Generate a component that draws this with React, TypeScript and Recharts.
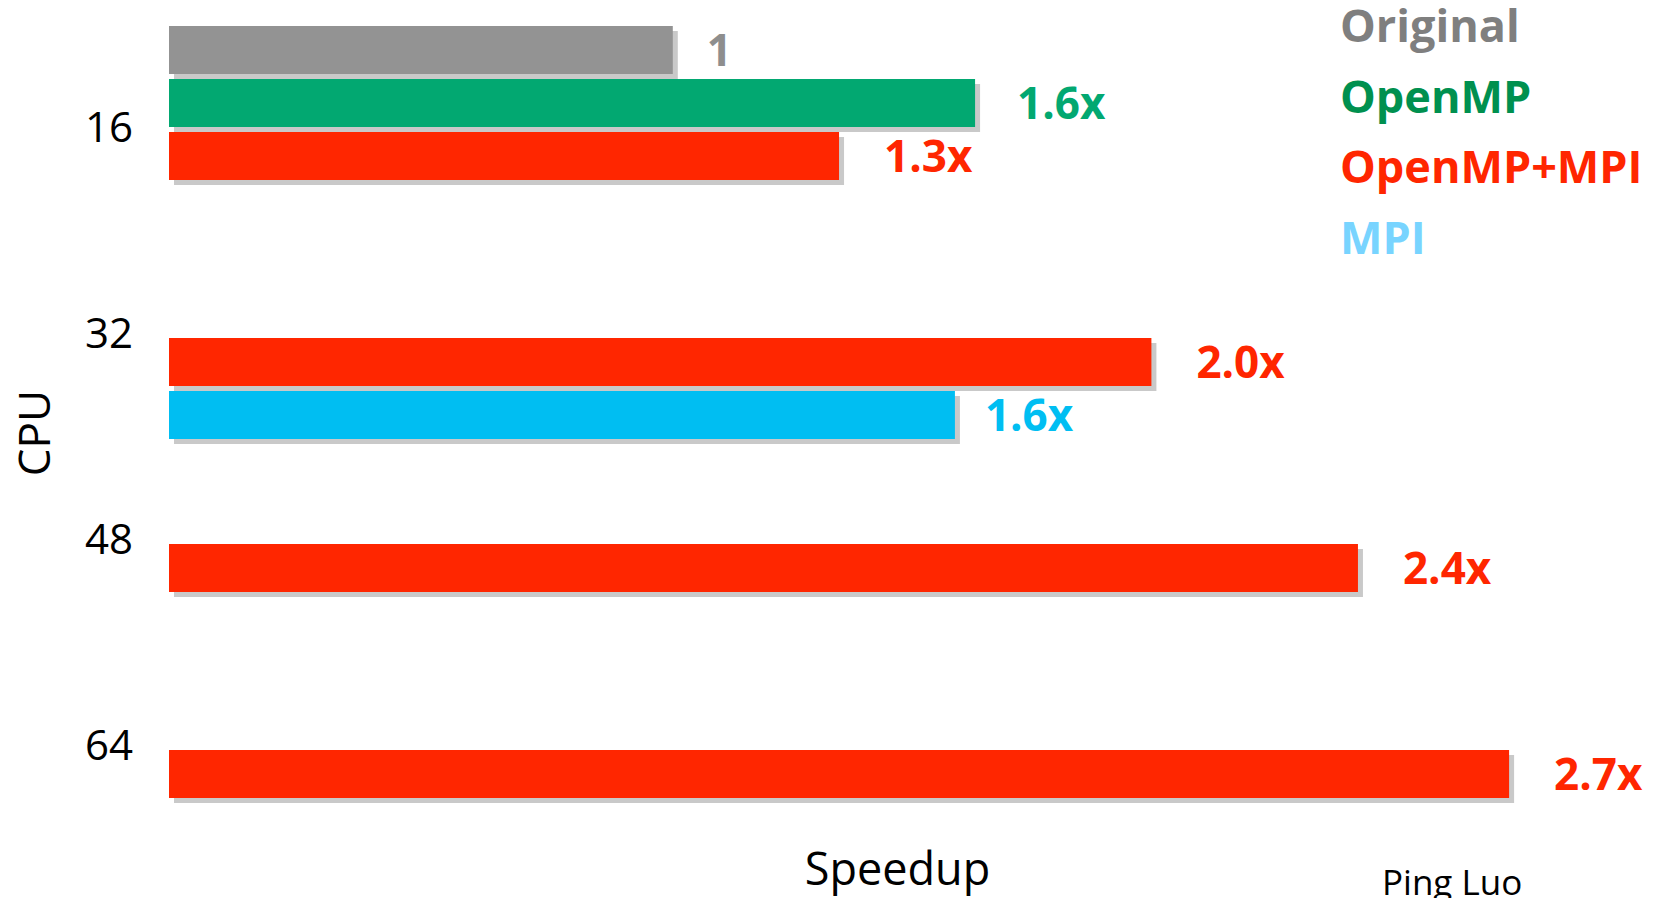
import { Bar, BarChart, LabelList, Legend, XAxis, YAxis } from "recharts";

const categories = ["16", "32", "48", "64"];
const originalSpeedup = [1.0, null, null, null];
const openmpSpeedup = [1.6, null, null, null];
const hybridSpeedup = [1.33, 1.95, 2.36, 2.66];
const mpiSpeedup = [null, 1.56, null, null];

const originalLabels = ["1", null, null, null];
const openmpLabels = ["1.6x", null, null, null];
const hybridLabels = ["1.3x", "2.0x", "2.4x", "2.7x"];
const mpiLabels = [null, "1.6x", null, null];

const FONT = "'Open Sans', 'DejaVu Sans', sans-serif";
const SHADOW = "#c9c9c9";

const data = categories.map((cpu, i) => ({
  cpu,
  original: originalSpeedup[i],
  openmp: openmpSpeedup[i],
  hybrid: hybridSpeedup[i],
  mpi: mpiSpeedup[i],
  originalLabel: originalLabels[i],
  openmpLabel: openmpLabels[i],
  hybridLabel: hybridLabels[i],
  mpiLabel: mpiLabels[i],
}));

const series = [
  { key: "original", name: "Original", fill: "#939393", label: "#8e8e8e", legend: "#7f7f7f", offset: 34 },
  { key: "openmp", name: "OpenMP", fill: "#02a871", label: "#02a871", legend: "#00904f", offset: 42 },
  { key: "hybrid", name: "OpenMP+MPI", fill: "#ff2600", label: "#ff2600", legend: "#ff2600", offset: 45 },
  { key: "mpi", name: "MPI", fill: "#00bef2", label: "#00bef2", legend: "#78d4ff", offset: 30 },
];

function ShadowBar(props: any) {
  const { x, y, width, height, fill } = props;
  if (!width || width <= 0) return null;
  return (
    <g>
      <rect x={x + 5} y={y + 5} width={width} height={height} fill={SHADOW} />
      <rect x={x} y={y} width={width} height={height} fill={fill} />
    </g>
  );
}

function CpuLabel(props: any) {
  const vb = props.viewBox || { x: 0, y: 26, width: 169, height: 824 };
  const cx = vb.x + 50;
  const cy = vb.y + vb.height / 2 - 5;
  return (
    <text
      x={cx}
      y={cy}
      transform={`rotate(-90 ${cx} ${cy})`}
      textAnchor="middle"
      fontSize={44}
      fontFamily={FONT}
      fill="#000"
    >
      CPU
    </text>
  );
}

function SpeedupLabel(props: any) {
  const vb = props.viewBox || { x: 169, y: 850, width: 1461, height: 48 };
  return (
    <text
      x={vb.x + vb.width / 2 - 2}
      y={vb.y + 35}
      textAnchor="middle"
      fontSize={45}
      fontFamily={FONT}
      fill="#000"
    >
      Speedup
    </text>
  );
}

function LegendList() {
  return (
    <div style={{ fontFamily: FONT, fontWeight: 700, fontSize: 45 }}>
      {series.map((s) => (
        <div key={s.key} style={{ color: s.legend, height: 70.5, lineHeight: "50px", whiteSpace: "nowrap" }}>
          {s.name}
        </div>
      ))}
    </div>
  );
}

export default function App() {
  return (
    <div style={{ position: "absolute", left: 0, top: 0, width: 1660, height: 898, background: "#fff" }}>
      <BarChart
        width={1660}
        height={898}
        data={data}
        layout="vertical"
        margin={{ top: 26, right: 30, bottom: 0, left: 0 }}
        barCategoryGap={0}
        barGap={5}
      >
        <XAxis
          type="number"
          domain={[0, 2.9]}
          tick={false}
          axisLine={false}
          tickLine={false}
          height={48}
          label={{ content: SpeedupLabel }}
        />
        <YAxis
          type="category"
          dataKey="cpu"
          width={169}
          axisLine={false}
          tickLine={false}
          tickSize={0}
          tickMargin={36}
          tick={{ fill: "#000", fontSize: 42, fontFamily: FONT, dy: -2 }}
          label={{ content: CpuLabel }}
        />
        <Legend
          layout="vertical"
          align="center"
          verticalAlign="middle"
          wrapperStyle={{ top: 0, left: 1340, width: 320, height: 282 }}
          content={() => <LegendList />}
        />
        {series.map((s) => (
          <Bar
            key={s.key}
            dataKey={s.key}
            name={s.name}
            fill={s.fill}
            shape={ShadowBar}
            isAnimationActive={false}
          >
            <LabelList
              dataKey={`${s.key}Label`}
              position="right"
              offset={s.offset}
              fill={s.label}
              style={{ fontFamily: FONT, fontWeight: 700, fontSize: 44 }}
            />
          </Bar>
        ))}
      </BarChart>
      <div
        style={{
          position: "absolute",
          left: 1382,
          top: 864,
          fontFamily: FONT,
          fontSize: 35,
          lineHeight: "35px",
          color: "#000",
          whiteSpace: "nowrap",
        }}
      >
        Ping Luo
      </div>
    </div>
  );
}
